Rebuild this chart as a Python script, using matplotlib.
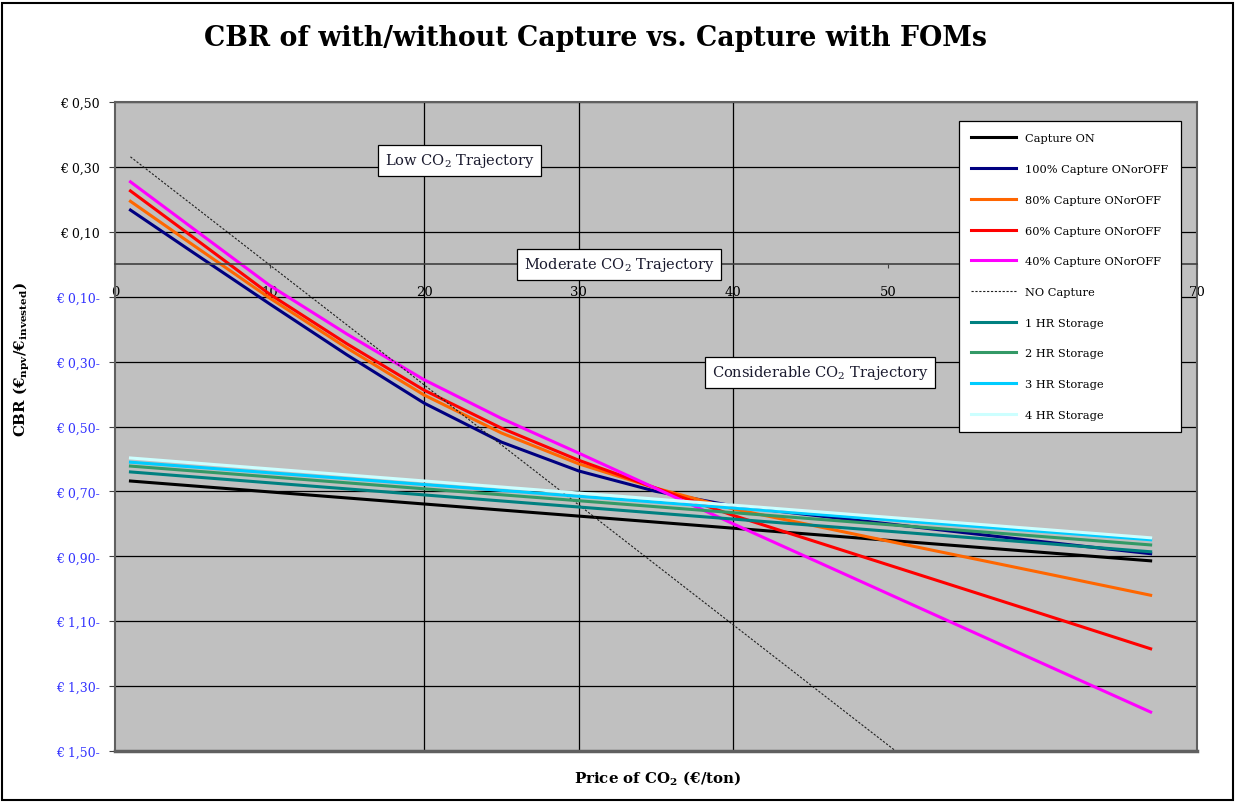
import matplotlib
matplotlib.use('Agg')
import matplotlib.pyplot as plt
from matplotlib.ticker import FuncFormatter, FixedLocator
from matplotlib.patches import Rectangle

plt.rcParams['font.family'] = ['DejaVu Serif']
plt.rcParams['mathtext.fontset'] = 'custom'
plt.rcParams['mathtext.rm'] = 'DejaVu Serif'
plt.rcParams['mathtext.bf'] = 'DejaVu Serif:bold'
plt.rcParams['mathtext.default'] = 'rm'

# CO2 price (EUR/ton)
price = [1, 5, 10, 15, 20, 25, 30, 35, 40, 50, 60, 67]

cap_100 = [0.167, 0.038, -0.122, -0.279, -0.428, -0.548, -0.637, -0.700, -0.745, -0.800, -0.855, -0.892]
cap_80 = [0.194, 0.061, -0.104, -0.258, -0.403, -0.520, -0.615, -0.690, -0.754, -0.853, -0.951, -1.020]
cap_60 = [0.226, 0.085, -0.092, -0.245, -0.388, -0.505, -0.604, -0.690, -0.774, -0.926, -1.078, -1.185]
cap_40 = [0.254, 0.112, -0.065, -0.215, -0.356, -0.475, -0.582, -0.691, -0.800, -1.015, -1.230, -1.380]

# straight-line series (end points)
price_lin = [1, 67]
cap_on = [-0.668, -0.914]
hr1 = [-0.640, -0.886]
hr2 = [-0.622, -0.865]
hr3 = [-0.610, -0.849]
hr4 = [-0.597, -0.843]
no_cap_price = [1, 67]
no_cap = [0.331, -2.11]

trajectory_bounds = [20, 30, 40]
trajectories = ['Low CO$_2$ Trajectory', 'Moderate CO$_2$ Trajectory', 'Considerable CO$_2$ Trajectory']
traj_pos = [(22.3, 0.32), (32.6, 0.0), (45.6, -0.333)]

yticks = [0.5, 0.3, 0.1, -0.1, -0.3, -0.5, -0.7, -0.9, -1.1, -1.3, -1.5]
xticks = [0, 10, 20, 30, 40, 50, 60, 70]
xticklabels = ['0', '10', '20', '30', '40', '50', '', '70']  # 60 sits behind the legend

fig = plt.figure(figsize=(12.36, 8.04), dpi=100)
ax = fig.add_axes([115/1236, 1-752/804, 1082/1236, 649/804])
ax.set_facecolor('#C0C0C0')

ax.plot(price_lin, cap_on, color='black', lw=2.2, label='Capture ON')
ax.plot(price, cap_100, color='#000080', lw=2.2, label='100% Capture ONorOFF')
ax.plot(price, cap_80, color='#FF6600', lw=2.2, label='80% Capture ONorOFF')
ax.plot(price, cap_60, color='#FF0000', lw=2.2, label='60% Capture ONorOFF')
ax.plot(price, cap_40, color='#FF00FF', lw=2.2, label='40% Capture ONorOFF')
ax.plot(no_cap_price, no_cap, color='#202020', lw=0.8, ls=(0, (2, 1.5)), label='NO Capture')
ax.plot(price_lin, hr1, color='#008080', lw=2.2, label='1 HR Storage')
ax.plot(price_lin, hr2, color='#339966', lw=2.2, label='2 HR Storage')
ax.plot(price_lin, hr3, color='#00CCFF', lw=2.2, label='3 HR Storage')
ax.plot(price_lin, hr4, color='#CCFFFF', lw=2.2, label='4 HR Storage')

ax.set_xlim(0, 70)
ax.set_ylim(-1.5, 0.5)

# grid
ax.yaxis.set_major_locator(FixedLocator(yticks))
ax.yaxis.grid(True, color='black', lw=0.9)
ax.set_axisbelow(True)
for b in trajectory_bounds:
    ax.axvline(b, color='black', lw=0.9, zorder=1)

def fmt(v, pos):
    s = '€ {:.2f}'.format(abs(v)).replace('.', ',')
    return s + '-' if v < 0 else s
ax.yaxis.set_major_formatter(FuncFormatter(fmt))
ax.tick_params(axis='y', labelsize=9, length=4, pad=7, color='#404040')
for lab, v in zip(ax.get_yticklabels(), yticks):
    lab.set_color('#3333FF' if v < 0 else 'black')

ax.spines['bottom'].set_position(('data', 0))
ax.spines['bottom'].set_color('#404040')
ax.spines['bottom'].set_linewidth(1.2)
for s in ['left', 'top', 'right']:
    ax.spines[s].set_color('#606060')
    ax.spines[s].set_linewidth(1.5)
ax.axhline(-1.5, color='#606060', lw=2.5, clip_on=False)
ax.set_xticks(xticks)
ax.set_xticklabels(xticklabels)
ax.tick_params(axis='x', labelsize=9.5, length=3, pad=12, direction='out', color='#404040')

for t, (x, y) in zip(trajectories, traj_pos):
    ax.text(x, y, t, ha='center', va='center', fontsize=10.5, color='#1a1a2e',
            bbox=dict(boxstyle='square,pad=0.45', fc='white', ec='black', lw=0.9), zorder=5)

leg = ax.legend(loc='upper right', bbox_to_anchor=(0.985, 0.971), fontsize=8.2,
                frameon=True, fancybox=False, edgecolor='black', framealpha=1,
                labelspacing=1.82, handlelength=3.9, handletextpad=0.8,
                borderpad=1.1, borderaxespad=0)
leg.get_frame().set_linewidth(0.9)

ax.set_ylabel(r'CBR (€$_\mathbf{npv}$/€$_\mathbf{invested}$)', fontsize=10.8, fontweight='bold')
ax.yaxis.set_label_coords(-0.077, 0.604)

fig.text(658/1236, 1-778/804, r'Price of CO$_\mathbf{2}$ (€/ton)', ha='center', va='center',
         fontsize=10.8, fontweight='bold')
fig.text(596/1236, 1-38/804, 'CBR of with/without Capture vs. Capture with FOMs',
         ha='center', va='center', fontsize=19.3, fontweight='bold')

fig.patches.append(Rectangle((2/1236, 3/804), 1231/1236, 797/804, transform=fig.transFigure,
                             fill=False, ec='black', lw=1.5))

fig.savefig('out.png', dpi=100)
